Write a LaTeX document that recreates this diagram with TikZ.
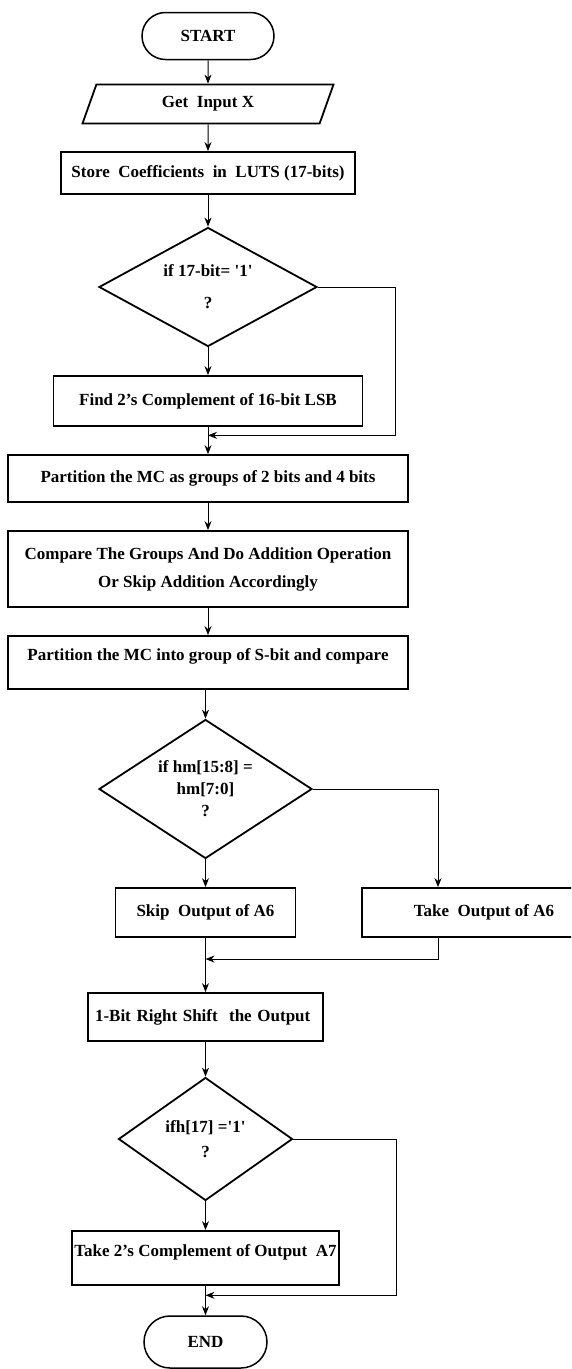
\documentclass[tikz,border=0pt]{standalone}
\usepackage{fontspec}
\setmainfont{Liberation Serif}
\usetikzlibrary{shapes.geometric,shapes.misc,arrows.meta,calc}

\begin{document}
\begin{tikzpicture}[x=1pt,y=-1pt,
  font=\fontsize{17}{21}\selectfont\bfseries,
  box/.style={draw,line width=1.8pt,rectangle,inner sep=0pt,align=center},
  term/.style={draw,line width=1.5pt,rounded rectangle,inner sep=0pt},
  test/.style={draw,line width=1.8pt,diamond,inner sep=0pt,align=center},
  io/.style={draw,line width=1.8pt,trapezium,trapezium left angle=47,
    trapezium right angle=133,trapezium stretches body,inner sep=0pt},
  flow/.style={line width=1pt,-{Stealth[length=9pt,width=7pt]}}]

\fill[white] (0,0) rectangle (571,1369);
\useasboundingbox (0,0) rectangle (571,1369);
\clip (0,0) rectangle (571,1369);

% upper column
\node[term,minimum width=132pt,minimum height=47pt] (start) at (208,36) {START};
\node[io,minimum width=251pt,minimum height=39pt] (input) at (208,104) {Get\ \ Input X};
\node[box,minimum width=294pt,minimum height=42pt] (store) at (208,173)
  {Store\ \ Coefficients\ \ in\ \ LUTS (17-bits)};
\node[test,aspect=1.83,minimum width=218pt,minimum height=119pt] (dec1) at (208,287)
  {if 17-bit= \textquotesingle1\textquotesingle\\[11pt]?};
\node[box,minimum width=309pt,minimum height=50pt] (find) at (208,401)
  {Find 2's Complement of 16-bit LSB};
\node[box,minimum width=400pt,minimum height=47pt] (part1) at (208,478.5)
  {Partition the MC as groups of 2 bits and 4 bits};
\node[box,minimum width=400pt,minimum height=76pt] (comp) at (208,569)
  {Compare The Groups And Do Addition Operation\\[7pt]Or Skip Addition Accordingly};
\node[box,minimum width=400pt,minimum height=53pt,text depth=15pt] (part2) at (208,662.5)
  {Partition the MC into group of S-bit and compare};

% lower column
\node[test,aspect=1.53,minimum width=213pt,minimum height=139pt] (dec2) at (205.5,789)
  {if hm[15:8] =\\[1pt]hm[7:0]\\[1pt]?};
\node[box,minimum width=180pt,minimum height=49pt] (skip) at (205.5,912.5)
  {Skip\ \ Output of A6};
\node[box,minimum width=244pt,minimum height=49pt] (take) at (484,912.5)
  {Take\ \ Output of A6};
\node[box,minimum width=235pt,minimum height=48pt,inner xsep=7pt,text width=221pt,
  align=left] (shift) at (205.5,1017) {1-Bit Right Shift\ \ the Output};
\node[test,aspect=1.41,minimum width=174pt,minimum height=123pt] (dec3) at (205.5,1139)
  {ifh[17] =\textquotesingle1\textquotesingle\\[4pt]?};
\node[box,minimum width=267pt,minimum height=54pt,text depth=15pt] (take2) at (205.5,1258)
  {Take 2's Complement of Output\ \ A7};
\node[term,minimum width=123pt,minimum height=52pt] (end) at (205.5,1342) {END};

\coordinate (j1) at ($(find.south)!0.31!(part1.north)$);
\coordinate (j2) at ($(skip.south)!0.39!(shift.north)$);
\coordinate (j3) at ($(take2.south)!0.32!(end.north)$);

\draw[flow] (start) -- (input);
\draw[flow] (input) -- (store);
\draw[flow] (store) -- (dec1);
\draw[flow] (dec1) -- (find);
\draw[flow] (find) -- (part1);
\draw[flow] (dec1.east) -- ++(78,0) |- (j1);
\draw[flow] (part1) -- (comp);
\draw[flow] (comp) -- (part2);
\draw[flow] (dec2.north |- part2.south) -- (dec2);
\draw[flow] (dec2) -- (skip);
\draw[flow] (dec2.east) -| ([xshift=-46pt]take.north);
\draw[flow] (skip) -- (shift);
\draw[flow] ([xshift=-46pt]take.south) |- (j2);
\draw[flow] (shift) -- (dec3);
\draw[flow] (dec3) -- (take2);
\draw[flow] (take2) -- (end);
\draw[flow] (dec3.east) -- ++(103,0) |- (j3);
\end{tikzpicture}
\end{document}
